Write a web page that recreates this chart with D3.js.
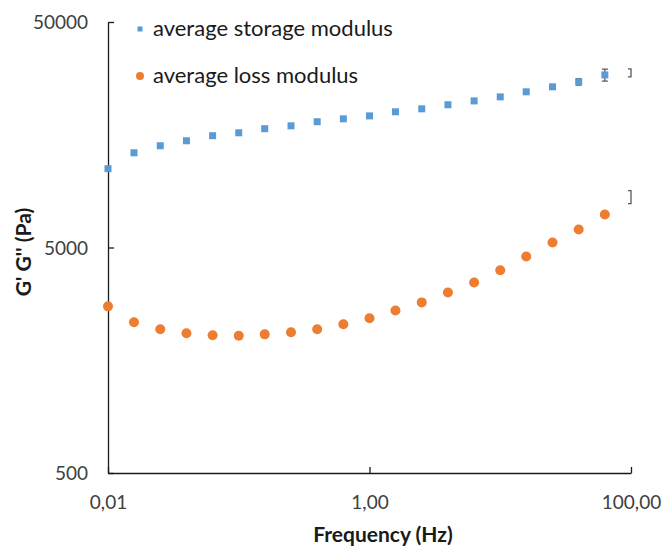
<!DOCTYPE html>
<html>
<head>
<meta charset="utf-8">
<script src="https://cdn.jsdelivr.net/npm/d3@7"></script>
<style>
  body { margin: 0; background: #fff; }
  svg { display: block; font-family: Lato, "Open Sans", sans-serif; }
</style>
</head>
<body>
<div id="chart"></div>
<script>
// frequency sweep, 0.2 decade steps
const frequency = [0.01, 0.0158, 0.0251, 0.0398, 0.0631, 0.1, 0.158, 0.251, 0.398, 0.631,
  1, 1.58, 2.51, 3.98, 6.31, 10, 15.8, 25.1, 39.8, 63.1];
const storageModulus = [11180, 13150, 14130, 14870, 15660, 16130, 16820, 17320, 18060, 18600,
  19170, 19990, 20600, 21480, 22340, 23280, 24510, 25800, 27150, 29120];
const lossModulus = [2741, 2329, 2168, 2083, 2040, 2030, 2060, 2103, 2168, 2283,
  2426, 2630, 2855, 3160, 3500, 3960, 4560, 5260, 6010, 6998];
const storageError = [0, 0, 0, 0, 0, 0, 0, 0, 0, 0, 0, 0, 0, 0, 0, 0, 0, 0, 900, 1800];
// stray error bars sitting on the 100 Hz edge
const edgeBars = [
  { f: 100, lo: 28560, hi: 30980 },
  { f: 100, lo: 7825, hi: 8930 }
];
const xTicks = [0.01, 1, 100];
const yTicks = [500, 5000, 50000];
const legendLabels = ["average storage modulus", "average loss modulus"];

const width = 663, height = 546;
const blue = "#5B9BD5", orange = "#ED7D31";

const svg = d3.select("#chart").append("svg")
  .attr("width", width)
  .attr("height", height);

const x = d3.scaleLog().domain([0.01, 100]).range([108, 631]);
const y = d3.scaleLog().domain([500, 50000]).range([473, 22]);

const fmtX = d => d3.format(".2f")(d).replace(".", ",");

const xAxis = svg.append("g")
  .attr("transform", `translate(0,${y(500)})`)
  .call(d3.axisBottom(x).tickValues(xTicks).tickFormat(fmtX)
    .tickSizeInner(-6).tickSizeOuter(0).tickPadding(23));

const yAxis = svg.append("g")
  .attr("transform", `translate(${x(0.01)},0)`)
  .call(d3.axisLeft(y).tickValues(yTicks).tickFormat(d3.format("d"))
    .tickSizeInner(-6).tickSizeOuter(0).tickPadding(20));

[xAxis, yAxis].forEach(a => {
  a.selectAll("path, line").attr("stroke", "#1a1a1a").attr("stroke-width", 1.3);
  a.selectAll("text").attr("font-size", 19).attr("fill", "#404040")
    .attr("font-family", "Lato, sans-serif");
});
yAxis.selectAll("text").attr("dy", "0.35em");

// error bars
const eb = svg.append("g").attr("stroke", "#595959").attr("stroke-width", 1.3).attr("fill", "none");
frequency.forEach((f, i) => {
  const e = storageError[i];
  if (!e) return;
  const cx = x(f), y1 = y(storageModulus[i] - e), y2 = y(storageModulus[i] + e);
  eb.append("path").attr("d", `M${cx - 3},${y1}H${cx + 3}M${cx},${y1}V${y2}M${cx - 3},${y2}H${cx + 3}`);
});
edgeBars.forEach(b => {
  const cx = x(b.f), y1 = y(b.lo), y2 = y(b.hi);
  eb.append("path").attr("d", `M${cx - 3},${y1}H${cx}V${y2}H${cx - 3}`);
});

svg.append("g").selectAll("rect")
  .data(frequency)
  .join("rect")
  .attr("x", d => x(d) - 3.5)
  .attr("y", (d, i) => y(storageModulus[i]) - 3.5)
  .attr("width", 7).attr("height", 7)
  .attr("fill", blue);

svg.append("g").selectAll("circle")
  .data(frequency)
  .join("circle")
  .attr("cx", d => x(d))
  .attr("cy", (d, i) => y(lossModulus[i]))
  .attr("r", 5)
  .attr("fill", orange);

// legend
const legend = svg.append("g");
legend.append("rect").attr("x", 137.5).attr("y", 26.5).attr("width", 5).attr("height", 5).attr("fill", blue);
legend.append("circle").attr("cx", 140).attr("cy", 76).attr("r", 4).attr("fill", orange);
legendLabels.forEach((t, i) => {
  legend.append("text")
    .attr("x", 153).attr("y", 36 + i * 47)
    .attr("font-size", 22).attr("fill", "#1a1a1a")
    .text(t);
});

svg.append("text")
  .attr("x", 383).attr("y", 542)
  .attr("text-anchor", "middle")
  .attr("font-size", 21).attr("font-weight", "bold").attr("fill", "#1a1a1a")
  .text("Frequency (Hz)");

svg.append("text")
  .attr("transform", "translate(31,252) rotate(-90)")
  .attr("text-anchor", "middle")
  .attr("font-size", 21).attr("font-weight", "bold").attr("fill", "#1a1a1a")
  .text("G' G'' (Pa)");
</script>
</body>
</html>
